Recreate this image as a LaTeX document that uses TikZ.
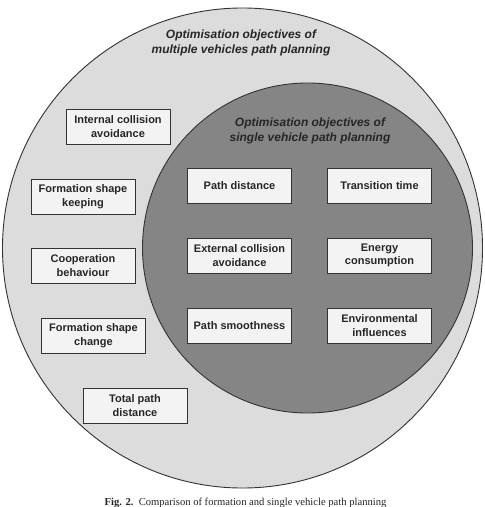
\documentclass[tikz,border=0pt]{standalone}
\usepackage{fontspec}
\setmainfont{Liberation Sans}
\newfontfamily\capfont{Liberation Serif}
\definecolor{outerfill}{HTML}{DCDCDC}
\definecolor{innerfill}{HTML}{858585}
\definecolor{boxfill}{HTML}{F3F3F3}
\definecolor{lineclr}{HTML}{333333}
\definecolor{txtclr}{HTML}{262626}
\tikzset{
  ring/.style={circle, draw=lineclr, line width=0.9bp, inner sep=0pt},
  titletext/.style={align=center, text=txtclr, font=\fontsize{12bp}{15bp}\selectfont\bfseries\itshape},
  objbox/.style={draw=lineclr, line width=0.9bp, fill=boxfill, minimum width=104bp, minimum height=35bp,
    inner sep=0pt, align=center, text=txtclr, font=\fontsize{11bp}{13.4bp}\selectfont\bfseries}
}
\begin{document}
\begin{tikzpicture}[x=1bp,y=-1bp]
\useasboundingbox (0,0) rectangle (485,507);
\fill[white] (0,0) rectangle (485,507);
\node[ring, fill=outerfill, minimum size=480bp] (outer) at (242.5,248) {};
\node[ring, fill=innerfill, minimum size=330bp] (inner) at (307.5,248) {};
\node[titletext] (outT) at (241,43) {Optimisation objectives of\\multiple vehicles path planning};
\node[titletext] (inT) at (310,131) {Optimisation objectives of\\single vehicle path planning};
\node[objbox] (ica) at (118,126.5) {Internal collision\\avoidance};
\node[objbox] (fsk) at (83,196.5) {Formation shape\\keeping};
\node[objbox] (cb) at (83,265.5) {Cooperation\\behaviour};
\node[objbox] (fsc) at (93.5,335.5) {Formation shape\\change};
\node[objbox] (tpd) at (135,405.5) {Total path\\distance};
\node[objbox] (pd) at (239.5,185.5) {Path distance};
\node[objbox] (tt) at (379.5,185.5) {Transition time};
\node[objbox] (eca) at (239.5,255.5) {External collision\\avoidance};
\node[objbox] (ec) at (379.5,255.5) {Energy\\consumption};
\node[objbox] (ps) at (239.5,325.5) {Path smoothness};
\node[objbox] (ei) at (379.5,325.5) {Environmental\\influences};
\node[anchor=base, inner sep=0pt, text=txtclr, font=\capfont\fontsize{10.6bp}{12bp}\selectfont] (cap) at (245.5,505.5)
  {\textbf{Fig. 2.}\enspace Comparison of formation and single vehicle path planning};
\end{tikzpicture}
\end{document}
